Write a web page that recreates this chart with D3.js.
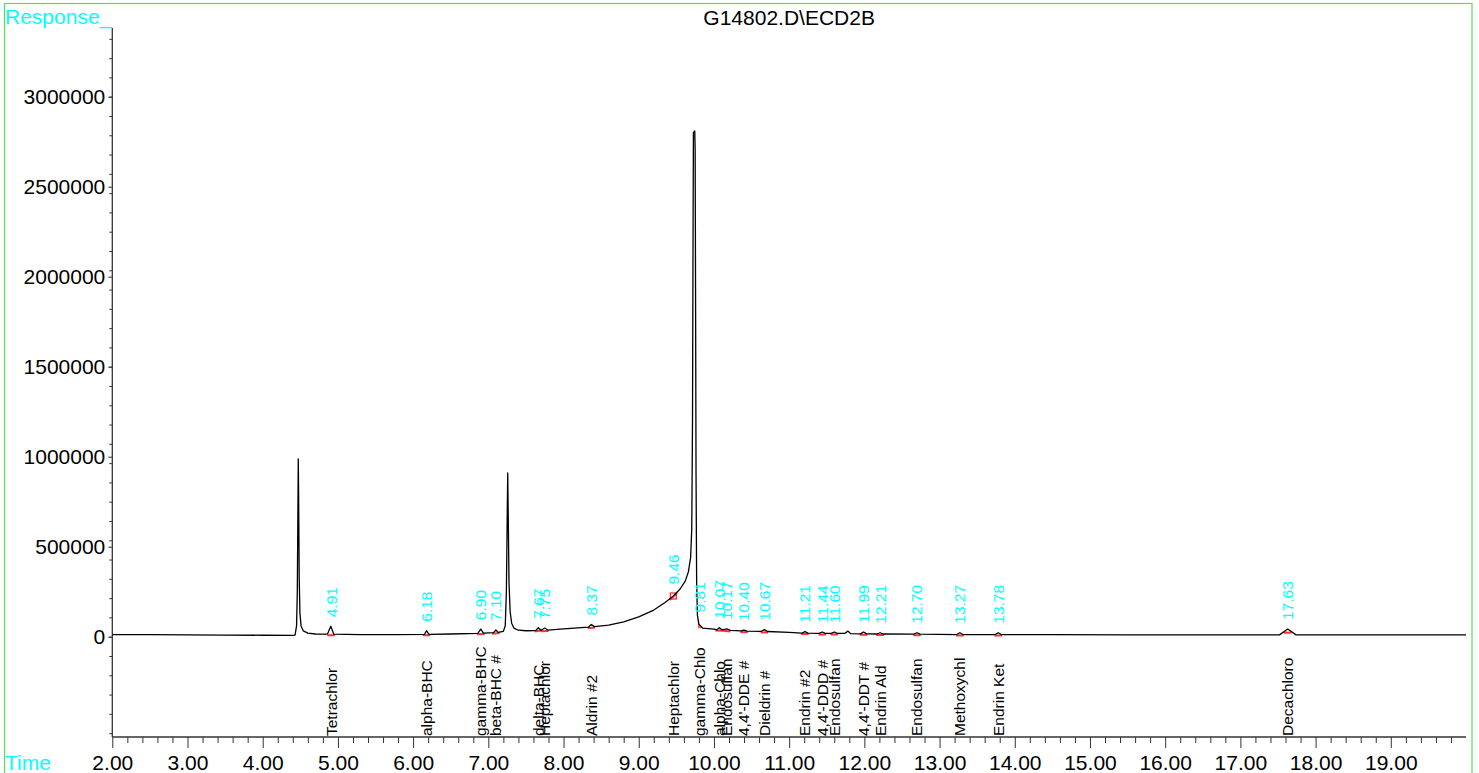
<!DOCTYPE html>
<html>
<head>
<meta charset="utf-8">
<script src="https://cdn.jsdelivr.net/npm/d3@7"></script>
<style>
  html, body { margin: 0; padding: 0; background: #fff; }
  svg { display: block; font-family: "Liberation Sans", Arial, sans-serif; }
</style>
</head>
<body>
<svg id="viz" width="1479" height="773"></svg>
<script>
/* Data */

const title = 'G14802.D\\ECD2B';

// x axis (minutes) and y axis (response) tick labels
const xTicks = [2, 3, 4, 5, 6, 7, 8, 9, 10, 11, 12, 13, 14, 15, 16, 17, 18, 19];
const yTicks = [0, 500000, 1000000, 1500000, 2000000, 2500000, 3000000];

// chromatogram trace: [time, response]
const trace = [
  [2.00, 12000], [2.50, 11000], [3.00, 10000], [3.50, 9000], [4.00, 8000], [4.40, 7000],
  [4.43, 9000], [4.45, 60000], [4.46, 250000], [4.468, 700000], [4.473, 988000], [4.478, 760000],
  [4.485, 330000], [4.495, 130000], [4.51, 60000], [4.54, 32000], [4.60, 20000], [4.70, 15000],
  [4.86, 14000], [4.905, 58000], [4.945, 14000], [5.30, 12000], [5.80, 12000],
  [6.15, 13000], [6.18, 33000], [6.21, 13000], [6.50, 15000],
  [6.86, 19000], [6.90, 42000], [6.935, 20000], [7.07, 23000], [7.10, 37000], [7.13, 24000],
  [7.20, 30000], [7.225, 60000], [7.24, 250000], [7.252, 700000], [7.258, 910000], [7.264, 700000],
  [7.275, 300000], [7.29, 140000], [7.31, 75000], [7.34, 48000], [7.40, 36000], [7.50, 33000],
  [7.63, 34000], [7.665, 50000], [7.70, 36000], [7.75, 48000], [7.79, 37000],
  [8.00, 43000], [8.33, 53000], [8.37, 68000], [8.41, 56000], [8.60, 64000], [8.80, 82000],
  [9.00, 110000], [9.20, 148000], [9.35, 190000], [9.46, 226000], [9.55, 265000], [9.62, 310000],
  [9.66, 360000], [9.69, 440000], [9.705, 600000], [9.715, 1200000], [9.722, 2200000],
  [9.727, 2800000], [9.745, 2810000], [9.75, 2700000], [9.755, 2000000], [9.762, 900000],
  [9.77, 300000], [9.78, 120000], [9.80, 70000], [9.85, 48000], [10.00, 42000],
  [10.04, 38000], [10.07, 50000], [10.11, 38000], [10.17, 43000], [10.22, 35000],
  [10.36, 32000], [10.40, 37000], [10.44, 31000], [10.63, 30000], [10.67, 39000], [10.71, 29000],
  [11.00, 24000], [11.17, 20000], [11.21, 28000], [11.25, 20000], [11.40, 18000], [11.44, 26000],
  [11.48, 18000], [11.56, 18000], [11.60, 26000], [11.64, 18000], [11.74, 18000], [11.78, 31000],
  [11.82, 17000], [11.95, 16000], [11.99, 26000], [12.03, 16000], [12.17, 15000], [12.21, 22000],
  [12.25, 15000], [12.66, 14000], [12.70, 22000], [12.74, 14000], [13.23, 12000], [13.27, 22000],
  [13.31, 12000], [13.74, 12000], [13.78, 22000], [13.82, 12000], [14.50, 11000], [15.50, 10000],
  [16.50, 10000], [17.52, 10000], [17.63, 43000], [17.74, 10000], [18.50, 10000], [19.50, 10000],
  [20.00, 10000]
];

// integrated peaks: retention time, compound name, apex response
const peakRT = [4.91, 6.18, 6.90, 7.10, 7.67, 7.75, 8.37, 9.46, 9.81, 10.07, 10.17, 10.40,
  10.67, 11.21, 11.44, 11.60, 11.99, 12.21, 12.70, 13.27, 13.78, 17.63];
const peakName = ['Tetrachlor', 'alpha-BHC', 'gamma-BHC', 'beta-BHC #', 'delta-BHC', 'Heptachlor',
  'Aldrin #2', 'Heptachlor', 'gamma-Chlo', 'alpha-Chlo', 'Endosulfan', '4,4\'-DDE #',
  'Dieldrin #', 'Endrin #2', '4,4\'-DDD #', 'Endosulfan', '4,4\'-DDT #', 'Endrin Ald',
  'Endosulfan', 'Methoxychl', 'Endrin Ket', 'Decachloro'];
const peakTop = [58000, 33000, 42000, 37000, 50000, 48000, 68000, 240000, 85000, 50000, 43000,
  37000, 39000, 28000, 26000, 26000, 26000, 22000, 22000, 22000, 22000, 43000];

/* Visualization */

const svg = d3.select('#viz');

const plotLeft = 112.3;
const plotRight = 1466;
const plotTop = 28;
const plotBottom = 737;

const xScale = d3.scaleLinear().domain([2, 20]).range([plotLeft, plotRight]);
const yScale = d3.scaleLinear().domain([0, 3000000]).range([636.7, 96.7]);

// frame
svg.append('rect')
  .attr('x', 4.5).attr('y', 3.5)
  .attr('width', 1467.5).attr('height', 790)
  .attr('fill', 'none')
  .attr('stroke', '#55e055')
  .attr('stroke-width', 1.2);

// titles
svg.append('text')
  .attr('x', 5).attr('y', 23.5)
  .attr('fill', '#00ffff')
  .attr('font-size', 21)
  .text('Response_');

svg.append('text')
  .attr('x', 5).attr('y', 770)
  .attr('fill', '#00ffff')
  .attr('font-size', 21)
  .text('Time');

svg.append('text')
  .attr('x', (plotLeft + plotRight) / 2).attr('y', 25)
  .attr('text-anchor', 'middle')
  .attr('font-size', 21)
  .text(title);

// y axis
const yMinor = svg.append('g').attr('transform', 'translate(' + plotLeft + ',0)');
yMinor.call(
  d3.axisLeft(yScale)
    .tickValues(d3.range(-5, 32).map((i) => (i * 3000000) / 28).filter((v) => yScale(v) <= plotBottom && yScale(v) >= plotTop + 2))
    .tickSize(3)
    .tickFormat('')
);
yMinor.select('.domain').remove();

const yAxis = svg.append('g').attr('transform', 'translate(' + plotLeft + ',0)');
yAxis.call(d3.axisLeft(yScale).tickValues(yTicks).tickSize(4).tickPadding(3).tickFormat(d3.format('d')));
yAxis.select('.domain').remove();
yAxis.selectAll('text').attr('font-size', 21).attr('font-family', '"Liberation Sans", Arial, sans-serif').attr('fill', '#000');

svg.append('line')
  .attr('x1', plotLeft).attr('x2', plotLeft)
  .attr('y1', plotTop).attr('y2', plotBottom)
  .attr('stroke', '#333').attr('stroke-width', 1.3);

// x axis
const xMinor = svg.append('g').attr('transform', 'translate(0,' + plotBottom + ')');
xMinor.call(
  d3.axisBottom(xScale)
    .tickValues(d3.range(10, 100).map((i) => i / 5).filter((v) => v < 20 && Math.round(v * 5) % 5 !== 0))
    .tickSize(6)
    .tickFormat('')
);
xMinor.select('.domain').remove();

const xAxis = svg.append('g').attr('transform', 'translate(0,' + plotBottom + ')');
xAxis.call(d3.axisBottom(xScale).tickValues(xTicks).tickSize(11).tickFormat(d3.format('.2f')));
xAxis.select('.domain').remove();
xAxis.selectAll('text')
  .attr('y', 33).attr('dy', 0)
  .attr('font-size', 21)
  .attr('font-family', '"Liberation Sans", Arial, sans-serif')
  .attr('fill', '#000');

svg.append('line')
  .attr('x1', plotLeft).attr('x2', plotRight)
  .attr('y1', plotBottom).attr('y2', plotBottom)
  .attr('stroke', '#333').attr('stroke-width', 1.3);

svg.selectAll('.tick line').attr('stroke', '#333');

// response along the trace (used to sit the red integration marks on it)
const bisect = d3.bisector((d) => d[0]).left;
function at(t) {
  const i = Math.max(1, Math.min(trace.length - 1, bisect(trace, t)));
  const a = trace[i - 1];
  const b = trace[i];
  return d3.interpolateNumber(a[1], b[1])((t - a[0]) / (b[0] - a[0]));
}

// red integration baselines (the 9.81 tail gets a filled wedge instead)
const marks = svg.append('g');
marks.selectAll('line')
  .data(peakRT.filter((d) => d !== 9.81))
  .join('line')
  .attr('x1', (d) => xScale(d - 0.05))
  .attr('x2', (d) => xScale(d + 0.05))
  .attr('y1', (d) => yScale(at(d - 0.05)) + 1)
  .attr('y2', (d) => yScale(at(d + 0.05)) + 1)
  .attr('stroke', '#ff3030')
  .attr('stroke-width', 2);

// filled tail of the 9.81 peak
marks.append('path')
  .attr('d', d3.area()
    .x((d) => xScale(d))
    .y0(() => yScale(at(9.84)) + 1)
    .y1((d) => yScale(at(d)))([9.785, 9.79, 9.80, 9.82, 9.84]))
  .attr('fill', '#ff6060');

// marker on the 9.46 shoulder
marks.append('rect')
  .attr('x', xScale(9.46) - 3)
  .attr('y', yScale(at(9.46)) - 3)
  .attr('width', 6).attr('height', 6)
  .attr('fill', 'none')
  .attr('stroke', '#ff2020')
  .attr('stroke-width', 1.2);

// trace
const line = d3.line()
  .x((d) => xScale(d[0]))
  .y((d) => yScale(d[1]));

svg.append('path')
  .datum(trace)
  .attr('d', line)
  .attr('fill', 'none')
  .attr('stroke', '#000')
  .attr('stroke-width', 1.3)
  .attr('stroke-linejoin', 'round');

// retention time labels
svg.append('g')
  .selectAll('text')
  .data(peakRT)
  .join('text')
  .attr('transform', (d, i) => 'translate(' + xScale(d) + ',' + (yScale(peakTop[i]) - 9) + ') rotate(-90)')
  .attr('dy', '0.35em')
  .attr('font-size', 15.5)
  .attr('fill', '#00ffff')
  .text((d) => d.toFixed(2));

// compound names
svg.append('g')
  .selectAll('text')
  .data(peakRT)
  .join('text')
  .attr('transform', (d) => 'translate(' + xScale(d) + ',' + (plotBottom - 1) + ') rotate(-90)')
  .attr('dy', '0.35em')
  .attr('font-size', 15.5)
  .attr('fill', '#000')
  .text((d, i) => peakName[i]);
</script>
</body>
</html>
